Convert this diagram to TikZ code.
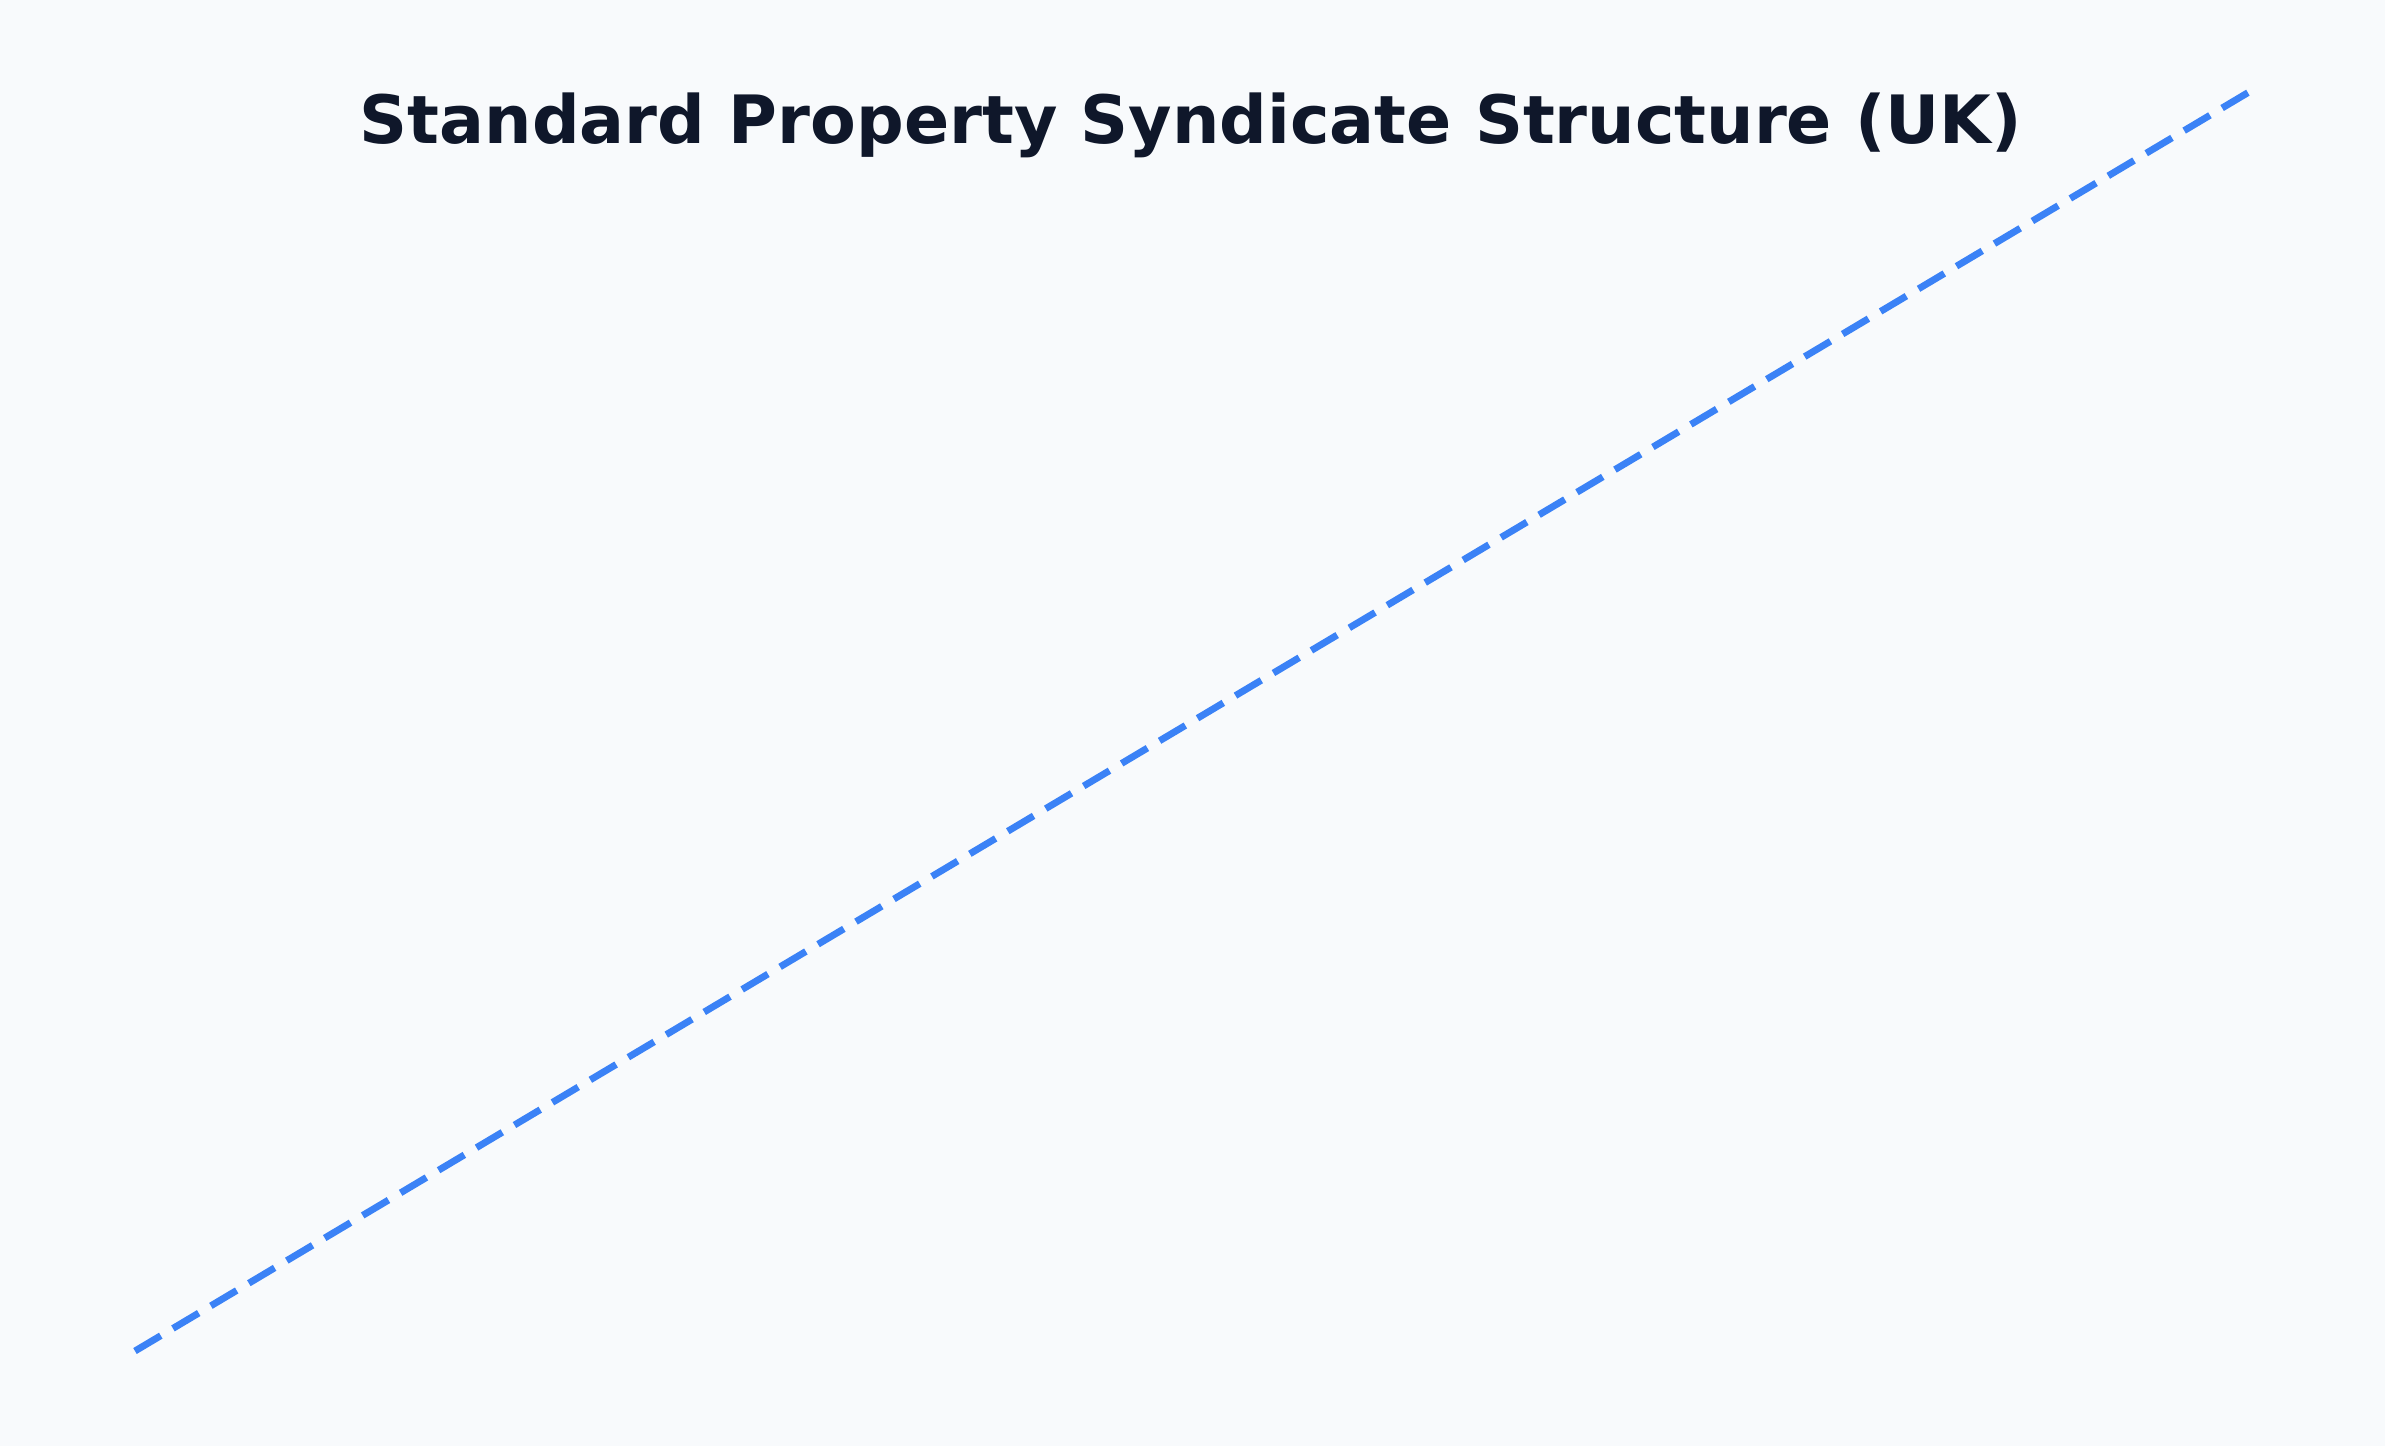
\documentclass[tikz,border=0pt]{standalone}
\usepackage{fontspec}
\setmainfont{DejaVu Sans}
\definecolor{bgc}{HTML}{F8FAFC}
\definecolor{titlec}{HTML}{0F172A}
\definecolor{linec}{HTML}{3B82F6}
\begin{document}
\begin{tikzpicture}[x=0.48pt,y=-0.48pt,
  titlestyle/.style={text=titlec,font=\fontsize{32}{38}\selectfont\bfseries,inner sep=0pt,anchor=base},
  trendline/.style={draw=linec,line width=3.3pt,dash pattern=on 14.4pt off 6.8pt}]
\fill[bgc] (0,0) rectangle (2385,1446);
\useasboundingbox (0,0) rectangle (2385,1446);
\node[titlestyle] (title) at (1191,143) {Standard Property Syndicate Structure (UK)};
\coordinate (start) at (135,1351);
\coordinate (end) at (2249,92);
\draw[trendline] (start) -- (end);
\end{tikzpicture}
\end{document}
